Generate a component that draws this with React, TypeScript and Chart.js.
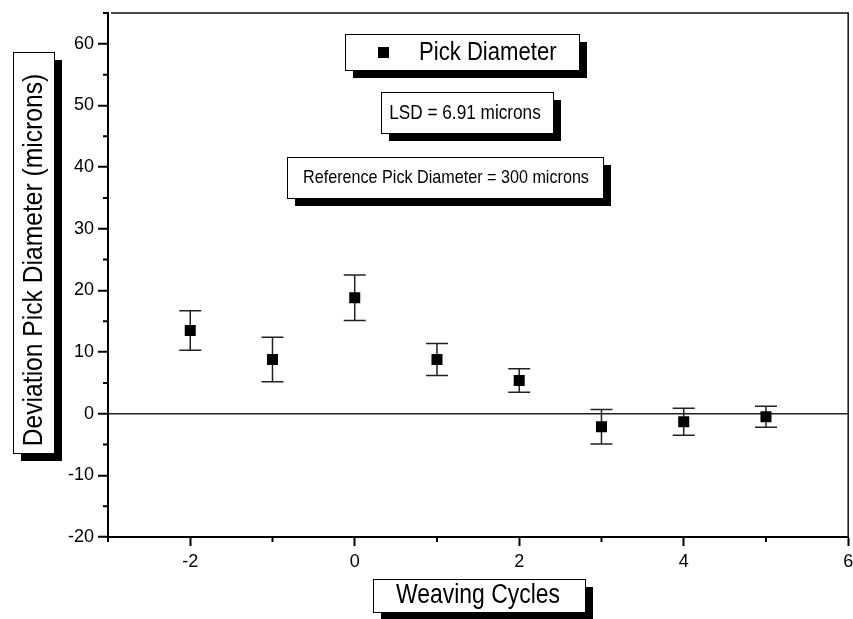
import { useEffect, useRef } from "react";
import { Chart, registerables } from "chart.js";
Chart.register(...registerables);

const cycles = [-2, -1, 0, 1, 2, 3, 4, 5];
const deviation = [13.5, 8.8, 18.8, 8.8, 5.4, -2.1, -1.3, -0.5];
const errors = [3.2, 3.6, 3.7, 2.6, 1.9, 2.8, 2.2, 1.7];
const xLabelled = [-2, 0, 2, 4, 6];
const yLabelled = [-20, -10, 0, 10, 20, 30, 40, 50, 60];
const legendLabel = "Pick Diameter";
const lsdNote = "LSD = 6.91 microns";
const refNote = "Reference Pick Diameter = 300 microns";
const xTitle = "Weaving Cycles";
const yTitle = "Deviation Pick Diameter (microns)";

const FONT = '"Liberation Sans", Arial, sans-serif';

function drawBox(ctx: CanvasRenderingContext2D, x: number, y: number, w: number, h: number) {
  ctx.save();
  ctx.fillStyle = "#000";
  ctx.fillRect(x + 8, y + 8, w, h);
  ctx.fillStyle = "#fff";
  ctx.fillRect(x, y, w, h);
  ctx.strokeStyle = "#000";
  ctx.lineWidth = 1;
  ctx.strokeRect(x + 0.5, y + 0.5, w, h);
  ctx.restore();
}

function drawText(
  ctx: CanvasRenderingContext2D,
  text: string,
  x: number,
  y: number,
  size: number,
  sx: number,
  align: CanvasTextAlign,
  rotate = false
) {
  ctx.save();
  ctx.translate(x, y);
  if (rotate) ctx.rotate(-Math.PI / 2);
  ctx.scale(sx, 1);
  ctx.font = `${size}px ${FONT}`;
  ctx.fillStyle = "#000";
  ctx.textAlign = align;
  ctx.textBaseline = "middle";
  ctx.fillText(text, 0, 0);
  ctx.restore();
}

const errorBarPlugin = {
  id: "errorBars",
  beforeDatasetsDraw(chart: any) {
    const ctx = chart.ctx as CanvasRenderingContext2D;
    const xs = chart.scales.x;
    const ys = chart.scales.y;
    ctx.save();
    ctx.strokeStyle = "#222";
    ctx.lineWidth = 1.5;
    cycles.forEach((c, i) => {
      const px = xs.getPixelForValue(c);
      const top = ys.getPixelForValue(deviation[i] + errors[i]);
      const bot = ys.getPixelForValue(deviation[i] - errors[i]);
      ctx.beginPath();
      ctx.moveTo(px, top);
      ctx.lineTo(px, bot);
      ctx.moveTo(px - 11, top);
      ctx.lineTo(px + 11, top);
      ctx.moveTo(px - 11, bot);
      ctx.lineTo(px + 11, bot);
      ctx.stroke();
    });
    ctx.restore();
  },
};

const decorPlugin = {
  id: "decor",
  afterDraw(chart: any) {
    const ctx = chart.ctx as CanvasRenderingContext2D;
    const a = chart.chartArea;
    const xs = chart.scales.x;
    const ys = chart.scales.y;
    ctx.save();
    // top and right frame
    ctx.strokeStyle = "#111";
    ctx.lineWidth = 1.5;
    ctx.beginPath();
    ctx.moveTo(a.left + 3, a.top);
    ctx.lineTo(a.right, a.top);
    ctx.lineTo(a.right, a.bottom);
    ctx.stroke();
    // minor ticks
    ctx.strokeStyle = "#000";
    ctx.lineWidth = 2;
    ctx.beginPath();
    xs.ticks.forEach((t: any) => {
      if (!xLabelled.includes(t.value)) {
        const px = xs.getPixelForValue(t.value);
        ctx.moveTo(px, a.bottom);
        ctx.lineTo(px, a.bottom + 5);
      }
    });
    ys.ticks.forEach((t: any) => {
      if (!yLabelled.includes(t.value)) {
        const py = ys.getPixelForValue(t.value);
        ctx.moveTo(a.left, py);
        ctx.lineTo(a.left - 5, py);
      }
    });
    ctx.stroke();
    ctx.restore();

    // legend box
    drawBox(ctx, 345, 34, 234, 36);
    ctx.fillStyle = "#000";
    ctx.fillRect(378, 47, 11, 11);
    drawText(ctx, legendLabel, 419, 53, 26, 0.85, "left");
    // LSD
    drawBox(ctx, 381, 92, 172, 41);
    drawText(ctx, lsdNote, 465, 113, 20, 0.86, "center");
    // reference
    drawBox(ctx, 287, 157, 316, 41);
    drawText(ctx, refNote, 446, 178, 19, 0.85, "center");
    // x title
    drawBox(ctx, 373, 579, 212, 33);
    drawText(ctx, xTitle, 478, 596, 27, 0.85, "center");
    // y title
    drawBox(ctx, 13, 52, 41, 401);
    drawText(ctx, yTitle, 34, 260, 28, 0.88, "center", true);
  },
};

export default function App() {
  const ref = useRef<HTMLCanvasElement | null>(null);
  useEffect(() => {
    if (!ref.current) return;
    const chart = new Chart(ref.current, {
      type: "scatter",
      data: {
        datasets: [
          {
            label: legendLabel,
            data: cycles.map((c, i) => ({ x: c, y: deviation[i] })),
            pointStyle: "rect",
            pointRadius: 7.8,
            pointBackgroundColor: "#000",
            pointBorderWidth: 0,
            showLine: false,
          },
        ],
      },
      options: {
        animation: false,
        responsive: false,
        layout: { padding: { top: 13, right: 2, left: 0, bottom: 0 } },
        plugins: { legend: { display: false }, tooltip: { enabled: false } },
        scales: {
          x: {
            type: "linear",
            min: -3,
            max: 6,
            afterFit: (s: any) => {
              s.height = 82;
              s.paddingLeft = 0;
              s.paddingRight = 0;
            },
            ticks: {
              stepSize: 1,
              autoSkip: false,
              maxRotation: 0,
              padding: 5,
              color: "#000",
              font: { family: FONT, size: 18 },
              callback: (v: any) => (xLabelled.includes(Number(v)) ? String(v) : ""),
            },
            grid: {
              drawOnChartArea: false,
              tickLength: 9,
              tickWidth: 2,
              tickColor: (c: any) => (xLabelled.includes(c.tick?.value) ? "#000" : "rgba(0,0,0,0)"),
            },
            border: { display: true, color: "#000", width: 2 },
          },
          y: {
            min: -20,
            max: 65,
            afterFit: (s: any) => {
              s.width = 108;
              s.paddingTop = 0;
              s.paddingBottom = 0;
            },
            ticks: {
              stepSize: 5,
              autoSkip: false,
              padding: 4,
              color: "#000",
              font: { family: FONT, size: 18 },
              callback: (v: any) => (yLabelled.includes(Number(v)) ? String(v) : ""),
            },
            grid: {
              drawOnChartArea: true,
              tickLength: 10,
              tickWidth: 2,
              lineWidth: 1.5,
              color: (c: any) => (c.tick?.value === 0 ? "#222" : "rgba(0,0,0,0)"),
              tickColor: (c: any) => (yLabelled.includes(c.tick?.value) ? "#000" : "rgba(0,0,0,0)"),
            },
            border: { display: true, color: "#000", width: 2 },
          },
        },
      },
      plugins: [errorBarPlugin, decorPlugin],
    });
    return () => chart.destroy();
  }, []);
  return (
    <div
      style={{
        position: "fixed",
        left: 0,
        top: 0,
        width: 853,
        height: 619,
        overflow: "hidden",
        background: "#fff",
      }}
    >
      <canvas ref={ref} width={856} height={619} style={{ display: "block" }} />
    </div>
  );
}
